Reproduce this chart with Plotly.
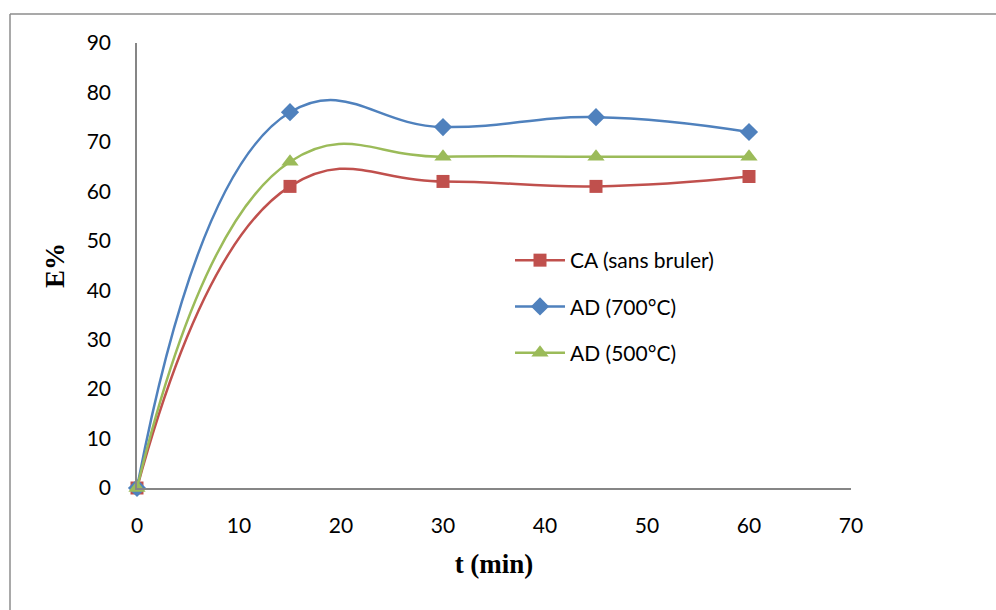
import plotly.graph_objects as go

t = [0, 15, 30, 45, 60]
ca = [0, 61, 62, 61, 63]
ad700 = [0, 76, 73, 75, 72]
ad500 = [0, 66, 67, 67, 67]

series = [
    ("CA (sans bruler)", ca, "#C0504D", "square", 13),
    ("AD (700°C)", ad700, "#4F81BD", "diamond", 14),
    ("AD (500°C)", ad500, "#9BBB59", "triangle-up", 15),
]

fig = go.Figure()
for i, (name, y, col, sym, sz) in enumerate(series):
    fig.add_trace(go.Scatter(
        x=t, y=y, name=name, mode="lines+markers",
        line=dict(color=col, width=2.5, shape="spline", smoothing=1.3),
        marker=dict(symbol=sym, size=sz, color=col),
        cliponaxis=False, legendgroup=f"g{i}",
    ))

L, R, T, B = 137, 145, 43, 122
W, H = 996, 610
pw, ph = W - L - R, H - T - B

fig.update_layout(
    width=W, height=H,
    margin=dict(l=L, r=R, t=T, b=B),
    paper_bgcolor="white", plot_bgcolor="white",
    font=dict(family="Lato, Open Sans, sans-serif", size=21, color="black"),
    showlegend=True,
    legend=dict(x=(510 - L) / pw, y=(488 - 240) / ph, xanchor="left", yanchor="top",
                font=dict(size=21), tracegroupgap=16, bgcolor="rgba(0,0,0,0)",
                itemwidth=50),
    xaxis=dict(range=[0, 70], dtick=10, showgrid=False, zeroline=False,
               showline=True, linecolor="#868686", linewidth=1.5,
               ticks="", ticklabelstandoff=18,
               title=dict(text="t (min)", standoff=18,
                          font=dict(family="Liberation Serif", size=27, weight="bold"))),
    yaxis=dict(range=[0, 90], dtick=10, showgrid=False, zeroline=False,
               showline=True, linecolor="#868686", linewidth=1.5,
               ticks="", ticklabelstandoff=20,
               title=dict(text="E%", standoff=14,
                          font=dict(family="Liberation Serif", size=27, weight="bold"))),
)

# outer chart border (top and left visible)
fig.add_shape(type="line", xref="paper", yref="paper",
              x0=(10 - L) / pw, x1=(W + 5 - L) / pw, y0=(H - B - 14) / ph, y1=(H - B - 14) / ph,
              line=dict(color="#8c8c8c", width=1.5))
fig.add_shape(type="line", xref="paper", yref="paper",
              x0=(10 - L) / pw, x1=(10 - L) / pw, y0=(H - B - 14) / ph, y1=(H - B - H - 5) / ph,
              line=dict(color="#8c8c8c", width=1.5))

fig.write_html("out.html")
